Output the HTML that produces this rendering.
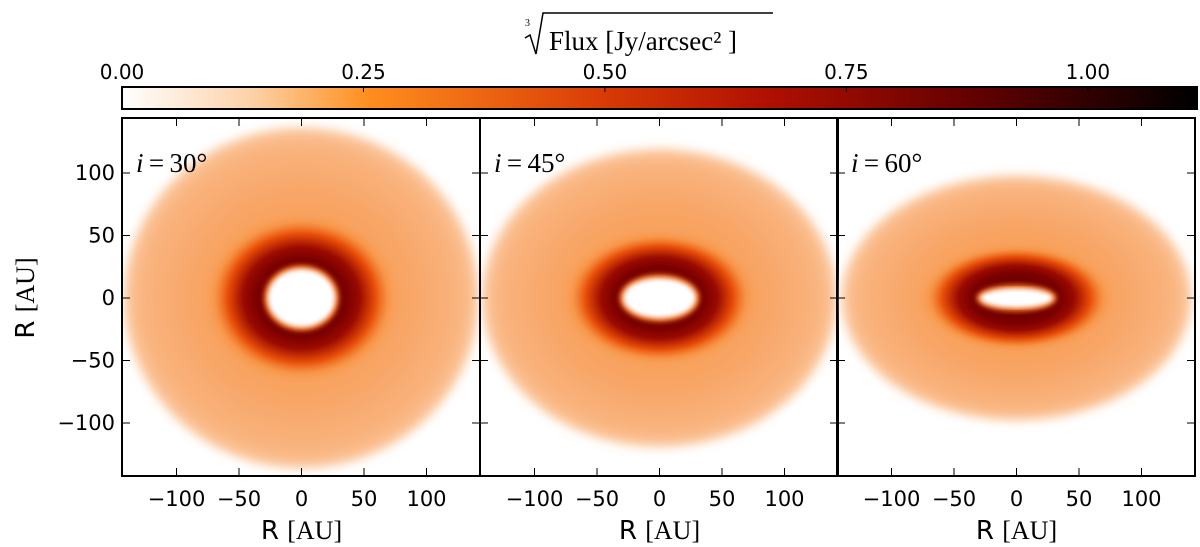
<!DOCTYPE html>
<html><head><meta charset="utf-8"><style>
html,body{margin:0;padding:0;background:#fff;width:1200px;height:547px;overflow:hidden}
svg text{font-family:"DejaVu Sans","Liberation Sans",sans-serif;fill:#000}
.serif{font-family:"Liberation Serif","DejaVu Serif",serif}
</style></head><body>
<svg id="fig" width="1200" height="547" viewBox="0 0 1200 547" xmlns="http://www.w3.org/2000/svg">
<defs>
<linearGradient id="cmap" x1="0" x2="1" y1="0" y2="0">
<stop offset="0" stop-color="#ffffff"/>
<stop offset="0.12" stop-color="#fdd2a8"/>
<stop offset="0.23" stop-color="#ff8e1e"/>
<stop offset="0.45" stop-color="#d83a05"/>
<stop offset="0.6" stop-color="#b01000"/>
<stop offset="0.8" stop-color="#600000"/>
<stop offset="1" stop-color="#000000"/>
</linearGradient>
<filter id="blur4"><feGaussianBlur stdDeviation="5"/></filter>
<filter id="blur2"><feGaussianBlur stdDeviation="2.5"/></filter>
</defs>
<g id="cbar"></g>
<g id="panels"></g>
</svg>
<script>
// colorbar data
const cbarTicks = [0.00, 0.25, 0.50, 0.75, 1.00];
const cbarMax = 1.113;
// panel data
const inclinations = [30, 45, 60];
const axisTicks = [-100, -50, 0, 50, 100];
const outerRadiusAU = [142, 142, 140];
const outerFlatten = [0.96, 0.84, 0.7];
const ringRadiusAU = [64, 64, 64];
const ringFlatten = [0.87, 0.7, 0.56];
const holeRadiusAU = [27, 29, 29];
const holeFlatten = [0.86, 0.55, 0.27];

const NS = 'http://www.w3.org/2000/svg';
function mk(tag, attrs, parent){const e=document.createElementNS(NS,tag);for(const k in attrs)e.setAttribute(k,attrs[k]);parent.appendChild(e);return e;}
const svg = document.getElementById('fig');
const defs = svg.querySelector('defs');

// colorbar
const cb = document.getElementById('cbar');
const cbX0 = 122, cbX1 = 1197, cbY = 87, cbH = 22;
const cbScale = v => cbX0 + v / cbarMax * (cbX1 - cbX0);
let r = mk('rect',{x:cbX0,y:cbY,width:cbX1-cbX0,height:cbH,fill:'url(#cmap)',stroke:'#000','stroke-width':2},cb);


cbarTicks.forEach(v=>{
  const x = cbScale(v);
  const l = mk('line',{x1:x,x2:x,y1:cbY,y2:cbY+5,stroke:'#000','stroke-width':1},cb);
  
  
  const t = mk('text',{x:x,y:cbY-8,'font-size':20,'text-anchor':'middle'},cb);
  t.textContent = v.toFixed(2);
  
  
});
let ct = mk('text',{x:549,y:50,'font-size':27,'text-anchor':'start',class:'serif'},cb);
ct.textContent = 'Flux [Jy/arcsec² ]';


mk('path',{d:'M525,38 L530,35 L536,54 L543,13 L773,13',fill:'none',stroke:'#000','stroke-width':1.5},cb);
let c3 = mk('text',{x:525,y:26,'font-size':10,class:'serif'},cb);
c3.textContent='3';

// panels
const pw = 358, py0 = 118, py1 = 476;
const pxStarts = [122, 480, 837];
const scale = 1.25; // px per AU
const pg = document.getElementById('panels');
inclinations.forEach((inc,i)=>{
  const x0 = pxStarts[i], cx = x0 + pw/2 + 0.5, cy = 298;
  const g = mk('g',{},pg);
  
  
  const clip = mk('clipPath',{id:'clip'+i},defs);
  mk('rect',{x:x0,y:py0,width:pw,height:py1-py0},clip);
  const img = mk('g',{'clip-path':'url(#clip'+i+')'},g);
  // outer disk
  const orx = outerRadiusAU[i]*scale, ory = orx*outerFlatten[i];
  const gOut = mk('radialGradient',{id:'gout'+i},defs);
  mk('stop',{offset:0,'stop-color':'#f7953f'},gOut);
  mk('stop',{offset:0.6,'stop-color':'#f8a566'},gOut);
  mk('stop',{offset:0.9,'stop-color':'#f9b47f'},gOut);
  mk('stop',{offset:1,'stop-color':'#fbcaa2'},gOut);
  let e = mk('ellipse',{cx:cx,cy:cy,rx:orx,ry:ory,fill:'url(#gout'+i+')',filter:'url(#blur4)'},img);
  
  
  // ring
  const rrx = ringRadiusAU[i]*scale*1.25, rry = rrx*ringFlatten[i];
  const gR = mk('radialGradient',{id:'gring'+i},defs);
  mk('stop',{offset:0,'stop-color':'#5a0000'},gR);
  mk('stop',{offset:0.45,'stop-color':'#7a0000'},gR);
  mk('stop',{offset:0.58,'stop-color':'#9a0a00'},gR);
  mk('stop',{offset:0.74,'stop-color':'#e84e08'},gR);
  mk('stop',{offset:0.87,'stop-color':'#f7913e','stop-opacity':0.7},gR);
  mk('stop',{offset:1,'stop-color':'#f7a260','stop-opacity':0},gR);
  e = mk('ellipse',{cx:cx,cy:cy,rx:rrx,ry:rry,fill:'url(#gring'+i+')'},img);
  
  
  // hole
  const hrx = holeRadiusAU[i]*scale, hry = hrx*holeFlatten[i];
  e = mk('ellipse',{cx:cx,cy:cy,rx:hrx+4,ry:hry+4,fill:'#f07020',filter:'url(#blur2)'},img);
  e = mk('ellipse',{cx:cx,cy:cy,rx:hrx,ry:hry,fill:'#ffffff',filter:'url(#blur2)'},img);
  
  
  // frame
  const fr = mk('rect',{x:x0,y:py0,width:pw,height:py1-py0,fill:'none',stroke:'#000','stroke-width':2},g);
  
  
  // ticks
  axisTicks.forEach(v=>{
    const x = cx + v*scale, y = cy - v*scale;
    mk('line',{x1:x,x2:x,y1:py1,y2:py1-8,stroke:'#000','stroke-width':1},g);
    mk('line',{x1:x,x2:x,y1:py0,y2:py0+8,stroke:'#000','stroke-width':1},g);
    mk('line',{x1:x0,x2:x0+8,y1:y,y2:y,stroke:'#000','stroke-width':1},g);
    mk('line',{x1:x0+pw,x2:x0+pw-8,y1:y,y2:y,stroke:'#000','stroke-width':1},g);
    const t = mk('text',{x:x,y:506,'font-size':21,'text-anchor':'middle'},g);
    t.textContent = (v<0?'\u2212':'')+Math.abs(v);
    
    
    if(i===0){
      const ty = mk('text',{x:115,y:y+7,'font-size':21,'text-anchor':'end'},g);
      ty.textContent = (v<0?'\u2212':'')+Math.abs(v);
      
      
    }
  });
  const lab = mk('text',{x:x0+14,y:172,'font-size':27,class:'serif'},g);
  lab.innerHTML = '<tspan font-style="italic">i</tspan><tspan></tspan>';
  lab.lastChild.textContent = '\u2009=\u2009'+inc+'°';
  
  
  const xl = mk('text',{x:cx,y:539,'font-size':26,'text-anchor':'middle'},g);
  xl.innerHTML = 'R <tspan class="serif">[AU]</tspan>';
  
  
});
const yl = mk('text',{x:0,y:0,'font-size':26,'text-anchor':'middle',transform:'translate(34,298) rotate(-90)'},svg);
yl.innerHTML = 'R <tspan class="serif">[AU]</tspan>';


</script>
</body></html>
